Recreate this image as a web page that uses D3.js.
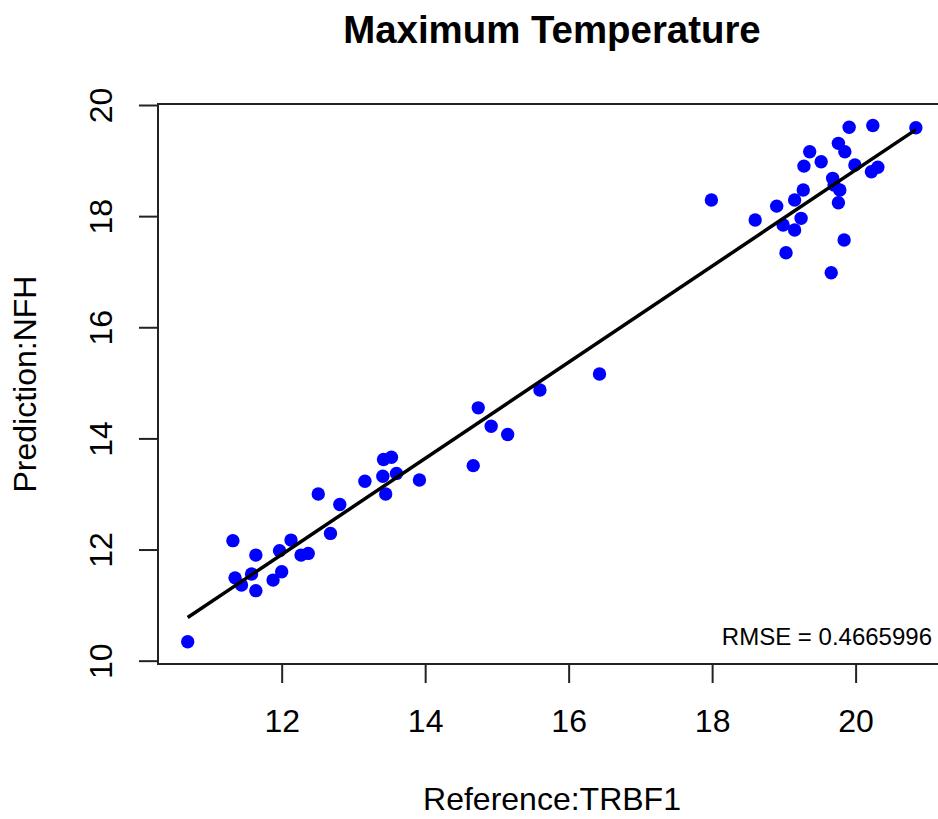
<!DOCTYPE html>
<html>
<head>
<meta charset="utf-8">
<script src="https://cdn.jsdelivr.net/npm/d3@7"></script>
<style>
  body { margin: 0; background: #fff; }
  text { font-family: "Liberation Sans", Arial, sans-serif; fill: #000; }
</style>
</head>
<body>
<div id="chart"></div>
<script>
// Reference:TRBF1 values
var refX = [10.69, 11.32, 11.64, 11.35, 11.44, 11.64, 11.58, 11.97, 12.13, 12.27, 12.37, 11.88, 12.00, 12.68,
            12.51, 12.81, 13.16, 13.42, 13.53, 13.41, 13.60, 13.45, 13.92,
            14.67, 14.74, 14.92, 15.15, 15.60, 16.43,
            17.99, 18.60, 18.90, 19.03, 18.99, 19.15, 19.24, 19.15, 19.27, 19.28, 19.36, 19.52, 19.66,
            19.68, 19.70, 19.78, 19.76, 19.84, 19.76, 19.85, 19.91, 19.99, 20.24, 20.22, 20.31, 20.84];
// Prediction:NFH values
var predY = [10.34, 12.16, 11.90, 11.49, 11.36, 11.26, 11.56, 11.98, 12.17, 11.90, 11.93, 11.45, 11.60, 12.29,
             13.00, 12.81, 13.23, 13.62, 13.66, 13.32, 13.37, 13.00, 13.25,
             13.51, 14.55, 14.22, 14.07, 14.87, 15.16,
             18.29, 17.93, 18.18, 17.34, 17.84, 17.75, 17.96, 18.29, 18.47, 18.90, 19.16, 18.98, 16.98,
             18.68, 18.56, 18.47, 18.24, 17.57, 19.31, 19.16, 19.60, 18.92, 19.63, 18.80, 18.88, 19.59];

var xTicks = [12, 14, 16, 18, 20];
var yTicks = [10, 12, 14, 16, 18, 20];
var xLimits = [10.276, 21.26];
var yLimits = [9.94, 20.018];

// fitted line
var fitIntercept = 1.53,
    fitSlope = 0.865;
var rmseLabel = "RMSE = 0.4665996";

var width = 938,
    height = 819;
var pLeft = 158, pRight = 946, pTop = 104, pBottom = 664;

var svg = d3.select("#chart")
    .append("svg")
    .attr("width", width)
    .attr("height", height);

svg.append("rect")
    .attr("width", width)
    .attr("height", height)
    .attr("fill", "#fff");

var x = d3.scaleLinear().domain(xLimits).range([pLeft, pRight]);
var y = d3.scaleLinear().domain(yLimits).range([pBottom, pTop]);

// x axis
var xAxis = svg.append("g")
    .attr("transform", "translate(0," + pBottom + ")")
    .call(d3.axisBottom(x).tickValues(xTicks).tickSize(19).tickPadding(26).tickFormat(d3.format("d")));
xAxis.select(".domain").remove();
xAxis.selectAll("line").attr("stroke", "#222").attr("stroke-width", 2);
xAxis.selectAll("text")
    .attr("font-size", 32)
    .attr("fill", "#000")
    .attr("font-family", "Liberation Sans, Arial, sans-serif");

// y axis, labels turned like R does
var yAxis = svg.append("g")
    .attr("transform", "translate(" + pLeft + ",0)")
    .call(d3.axisLeft(y).tickValues(yTicks).tickSize(19).tickFormat(d3.format("d")));
yAxis.select(".domain").remove();
yAxis.selectAll("line").attr("stroke", "#222").attr("stroke-width", 2);
yAxis.selectAll("text")
    .attr("x", null).attr("dy", null)
    .attr("text-anchor", "middle")
    .attr("transform", "translate(-46,0) rotate(-90)")
    .attr("font-size", 32)
    .attr("fill", "#000")
    .attr("font-family", "Liberation Sans, Arial, sans-serif");

// box
svg.append("rect")
    .attr("x", pLeft)
    .attr("y", pTop)
    .attr("width", pRight - pLeft)
    .attr("height", pBottom - pTop)
    .attr("fill", "none")
    .attr("stroke", "#222")
    .attr("stroke-width", 2);

var points = refX.map(function(d, i) { return { x: d, y: predY[i] }; });

svg.selectAll(".pt")
    .data(points)
    .enter().append("circle")
    .attr("class", "pt")
    .attr("cx", function(d) { return x(d.x); })
    .attr("cy", function(d) { return y(d.y); })
    .attr("r", 6.7)
    .attr("fill", "#0000ff");

var xr = d3.extent(refX);
var fit = xr.map(function(v) { return { x: v, y: fitIntercept + fitSlope * v }; });

svg.append("path")
    .datum(fit)
    .attr("d", d3.line().x(function(d) { return x(d.x); }).y(function(d) { return y(d.y); }))
    .attr("stroke", "#000")
    .attr("stroke-width", 3.5)
    .attr("fill", "none");

svg.append("text")
    .attr("x", 932)
    .attr("y", 645)
    .attr("text-anchor", "end")
    .attr("font-size", 24)
    .text(rmseLabel);

svg.append("text")
    .attr("x", 552)
    .attr("y", 43)
    .attr("text-anchor", "middle")
    .attr("font-size", 38.4)
    .attr("font-weight", "bold")
    .text("Maximum Temperature");

svg.append("text")
    .attr("x", 552)
    .attr("y", 810)
    .attr("text-anchor", "middle")
    .attr("font-size", 32)
    .text("Reference:TRBF1");

svg.append("text")
    .attr("transform", "translate(36," + ((pTop + pBottom) / 2) + ") rotate(-90)")
    .attr("text-anchor", "middle")
    .attr("font-size", 32)
    .text("Prediction:NFH");
</script>
</body>
</html>
